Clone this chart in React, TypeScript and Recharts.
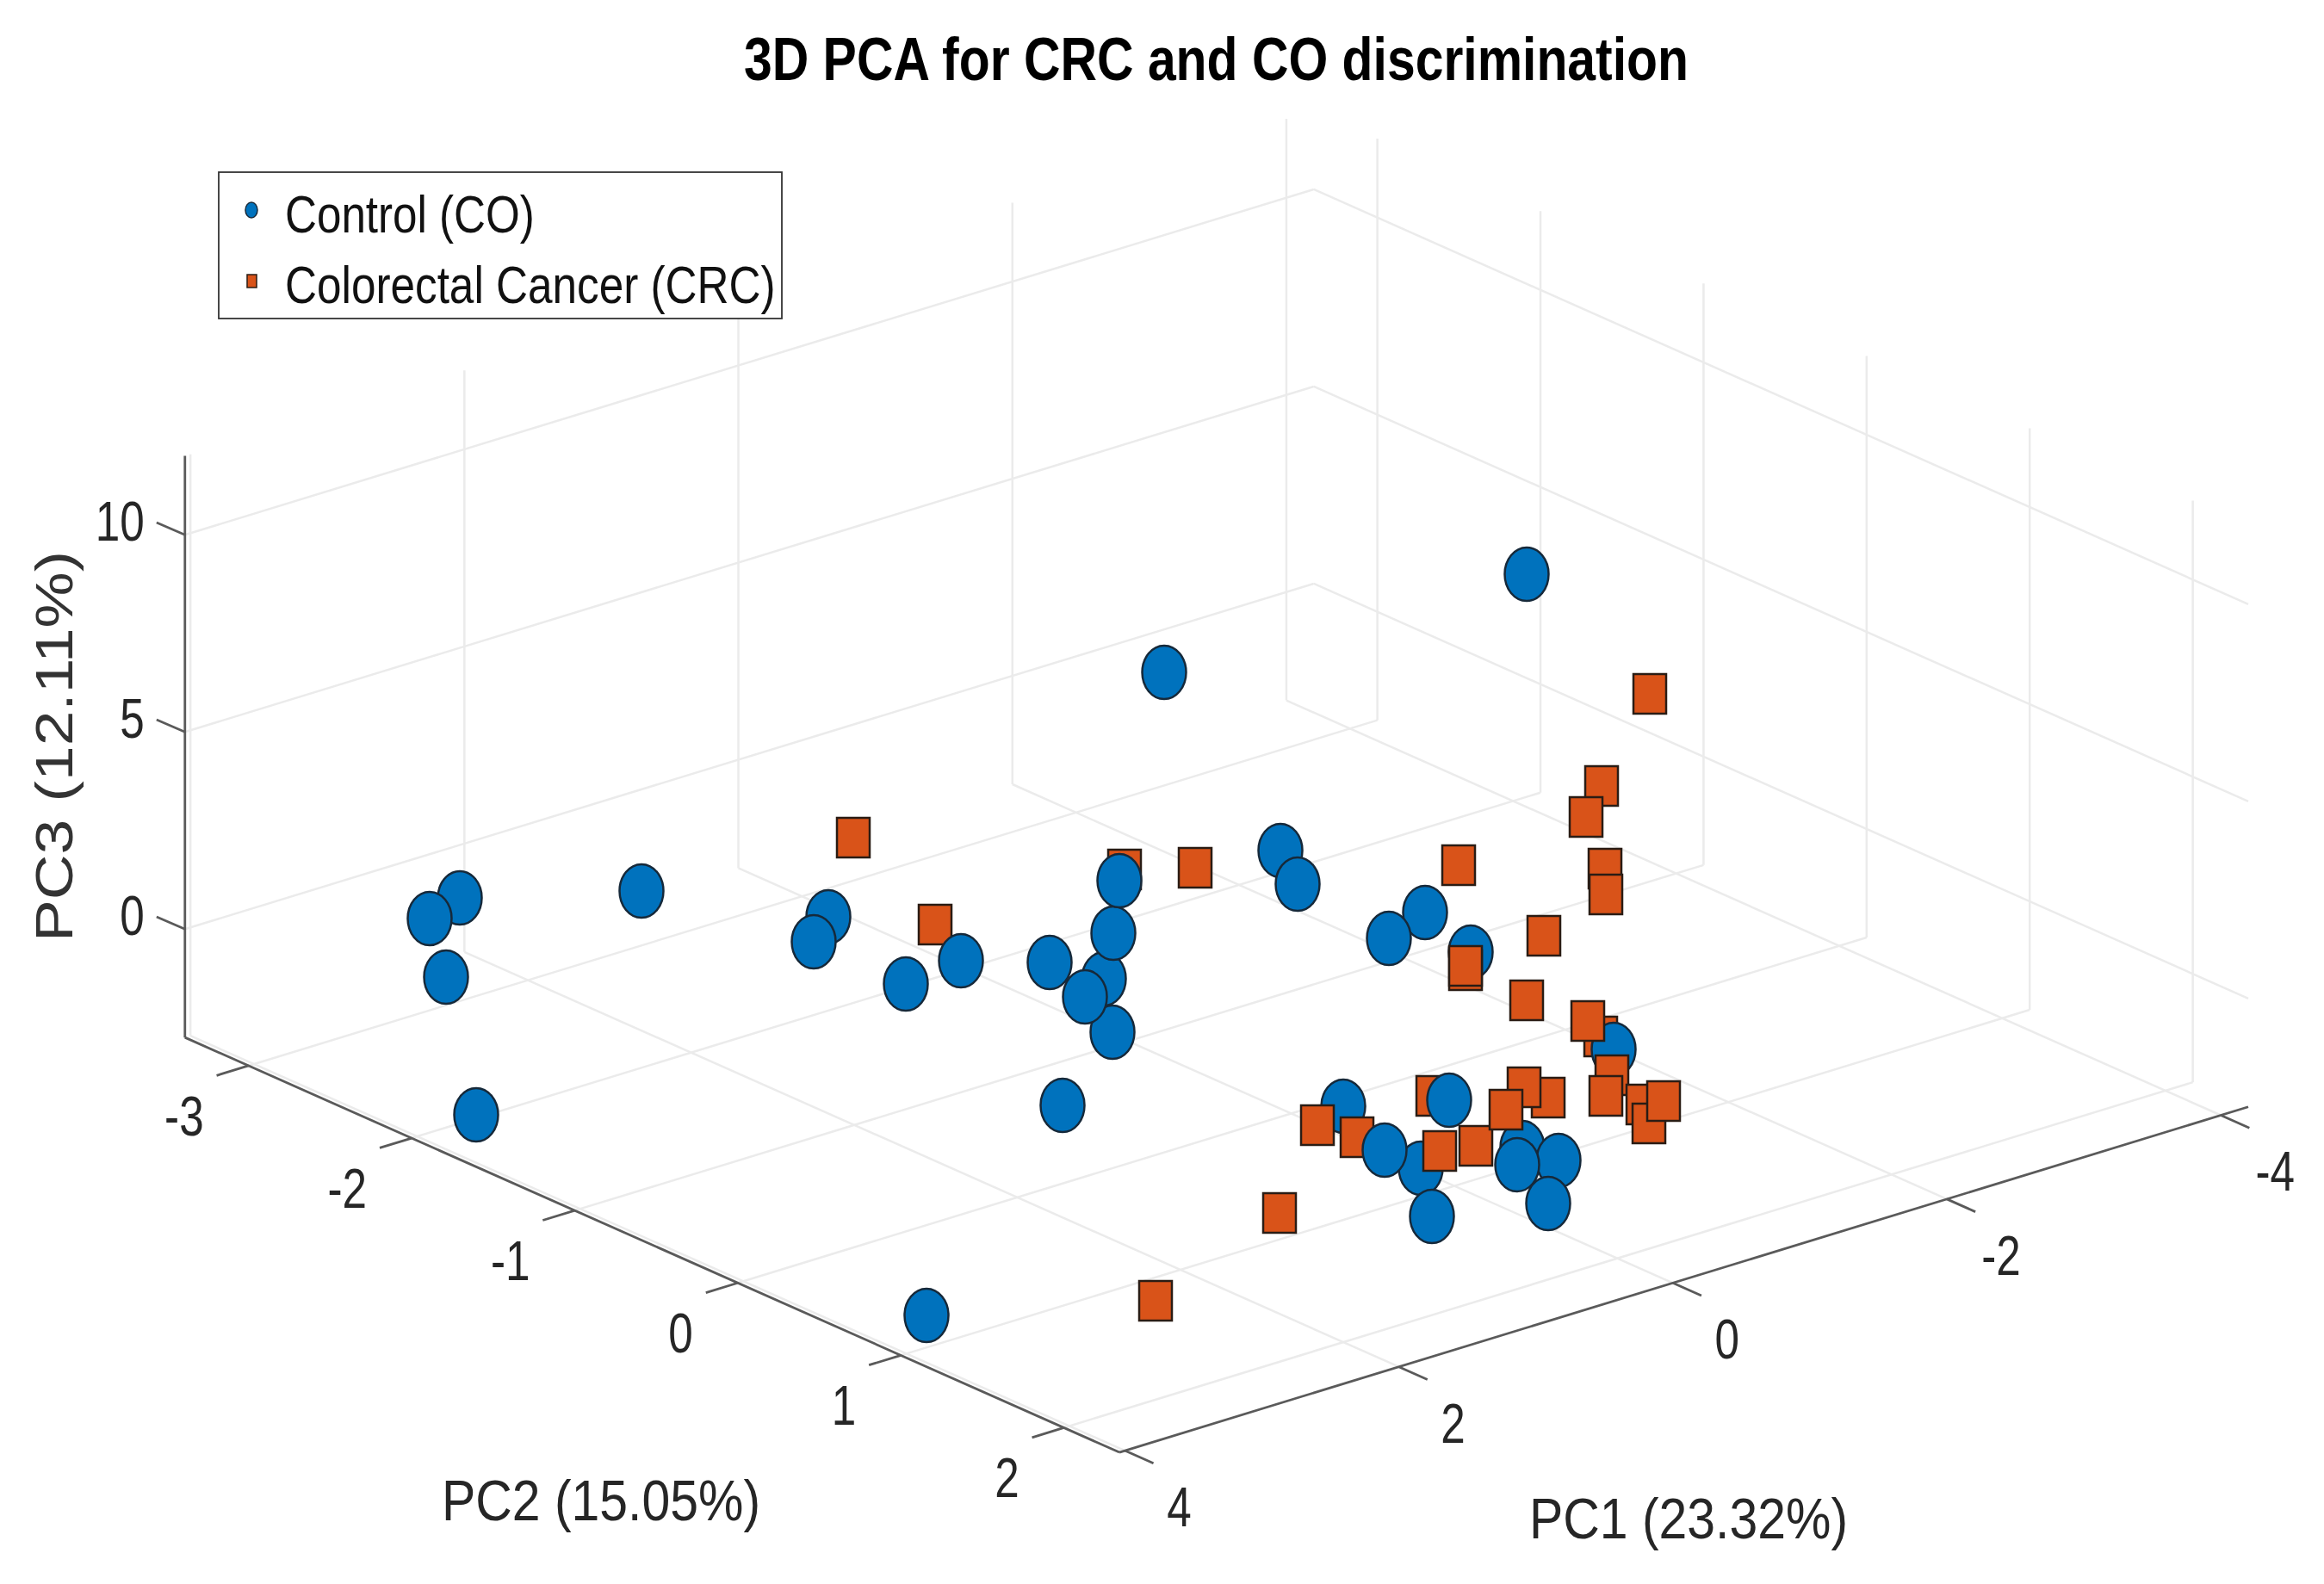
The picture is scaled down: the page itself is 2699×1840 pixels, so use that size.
import { ScatterChart, Scatter, XAxis, YAxis, Legend } from 'recharts';

const WIDTH = 2699;
const HEIGHT = 1840;

// marker centres (the 3D view is already flattened there)
// split into layers because the original overlaps blue and orange in depth order
const coBack = [[1560, 1285]];
const crcBack = [[1664, 1273], [1306, 1010], [1859, 1204], [1576, 1321], [1086, 1074]];
const coFront = [
  [534, 1043], [499, 1067], [518, 1135], [745, 1035], [553, 1295], [1076, 1528],
  [962, 1065], [945, 1094], [1052, 1143], [1116, 1116], [1219, 1118], [1292, 1199],
  [1282, 1137], [1260, 1158], [1293, 1084], [1300, 1023], [1234, 1284], [1352, 781],
  [1773, 667], [1487, 988], [1507, 1027], [1655, 1060], [1613, 1090], [1708, 1106],
  [1874, 1219], [1650, 1357], [1608, 1336], [1663, 1413], [1683, 1278], [1768, 1333],
  [1810, 1348], [1762, 1353], [1798, 1398],
];
const crcFront = [
  [1916, 806], [1860, 913], [1842, 949], [1694, 1005], [1864, 1009], [1865, 1039],
  [1793, 1087], [1702, 1127], [1702, 1122], [1773, 1162], [1844, 1186], [991, 973],
  [1388, 1008], [1530, 1307], [1672, 1337], [1714, 1331], [1798, 1275], [1770, 1263],
  [1749, 1289], [1872, 1249], [1865, 1273], [1908, 1283], [1915, 1305], [1932, 1279],
  [1486, 1409], [1342, 1511],
];

// axis ticks and limits
const pc1Ticks = [-4, -2, 0, 2, 4];
const pc2Ticks = [-3, -2, -1, 0, 1, 2];
const pc3Ticks = [0, 5, 10];
const PC1_MIN = -4.2;
const PC1_MAX = 4.04;
const PC2_MIN = -3.39;
const PC2_MAX = 2.34;
const PC3_MIN = -2.75;
const PC3_MAX = 12;

const BLUE = '#0072BD';
const ORANGE = '#D95319';
const GRID = '#ebebeb';
const AXIS = '#5a5a5a';
const TEXT = '#262626';
const FONT = '"Liberation Sans", Arial, sans-serif';

// fixed view of the MATLAB axes
const project = (pc1: number, pc2: number, pc3: number) => ({
  x: 1499.6 - 159.1 * pc1 + 189.4 * pc2,
  y: 1293.5 + 48.7 * pc1 + 84.1 * pc2 - 45.8 * (pc3 - PC3_MIN),
});

const toPoints = (list: number[][]) => list.map(([x, y]) => ({ x, y }));

const gridSegments = [
  ...pc1Ticks.map((t) => [project(t, PC2_MIN, PC3_MIN), project(t, PC2_MAX, PC3_MIN)]),
  ...pc2Ticks.map((t) => [project(PC1_MIN, t, PC3_MIN), project(PC1_MAX, t, PC3_MIN)]),
  ...pc1Ticks.map((t) => [project(t, PC2_MIN, PC3_MIN), project(t, PC2_MIN, PC3_MAX)]),
  ...pc2Ticks.map((t) => [project(PC1_MIN, t, PC3_MIN), project(PC1_MIN, t, PC3_MAX)]),
  ...pc3Ticks.map((t) => [project(PC1_MAX, PC2_MIN, t), project(PC1_MIN, PC2_MIN, t)]),
  ...pc3Ticks.map((t) => [project(PC1_MIN, PC2_MIN, t), project(PC1_MIN, PC2_MAX, t)]),
];

const axisSegments = [
  [project(PC1_MAX, PC2_MAX, PC3_MIN), project(PC1_MIN, PC2_MAX, PC3_MIN)],
  [project(PC1_MAX, PC2_MIN, PC3_MIN), project(PC1_MAX, PC2_MAX, PC3_MIN)],
  [project(PC1_MAX, PC2_MIN, PC3_MIN), project(PC1_MAX, PC2_MIN, PC3_MAX)],
  ...pc1Ticks.map((t) => [project(t, PC2_MAX, PC3_MIN), project(t, PC2_MAX + 0.175, PC3_MIN)]),
  ...pc2Ticks.map((t) => [project(PC1_MAX, t, PC3_MIN), project(PC1_MAX + 0.233, t, PC3_MIN)]),
  ...pc3Ticks.map((t) => [project(PC1_MAX, PC2_MIN, t), project(PC1_MAX + 0.207, PC2_MIN, t + 0.53)]),
];

const CoMarker = ({ cx, cy }: any) => (
  <ellipse cx={cx} cy={cy} rx={25.5} ry={31} fill={BLUE} stroke="#16293a" strokeWidth={2.5} />
);

const CrcMarker = ({ cx, cy }: any) => (
  <rect x={cx - 19} y={cy - 23} width={38} height={46} fill={ORANGE} stroke="#2a1c14" strokeWidth={2.5} />
);

const NoMarker = () => <g />;

const LegendBox = () => (
  <svg width={656} height={172} style={{ display: 'block', overflow: 'visible' }}>
    <rect x={1} y={1} width={654} height={170} fill="#fff" stroke="#333" strokeWidth={1.8} />
    <ellipse cx={39} cy={45} rx={7} ry={9} fill={BLUE} stroke="#16293a" strokeWidth={1.5} />
    <rect x={34} y={120} width={11} height={15} fill={ORANGE} stroke="#2a1c14" strokeWidth={1.5} />
    <text transform="translate(78,71) scale(0.825,1)" fontFamily={FONT} fontSize={62} fill="#111">
      Control (CO)
    </text>
    <text transform="translate(78,153) scale(0.827,1)" fontFamily={FONT} fontSize={62} fill="#111">
      Colorectal Cancer (CRC)
    </text>
  </svg>
);

const TickText = ({ x, y, anchor, children }: any) => (
  <text
    transform={`translate(${x},${y}) scale(0.8,1)`}
    textAnchor={anchor}
    fontFamily={FONT}
    fontSize={64}
    fill={TEXT}
  >
    {children}
  </text>
);

export default function App() {
  return (
    <div style={{ position: 'absolute', left: 0, top: 0, width: WIDTH, height: HEIGHT, background: '#fff' }}>
      <ScatterChart width={WIDTH} height={HEIGHT} margin={{ top: 0, right: 0, bottom: 0, left: 0 }}>
        <XAxis type="number" dataKey="x" domain={[0, WIDTH]} hide />
        <YAxis type="number" dataKey="y" domain={[0, HEIGHT]} reversed hide />
        <Legend
          layout="vertical"
          align="center"
          verticalAlign="middle"
          content={LegendBox}
          wrapperStyle={{ left: 253, top: 199, width: 656, height: 172 }}
        />

        {gridSegments.map((seg, i) => (
          <Scatter
            key={`grid-${i}`}
            data={seg}
            line={{ stroke: GRID, strokeWidth: 2.5 }}
            shape={NoMarker}
            legendType="none"
            isAnimationActive={false}
          />
        ))}
        {axisSegments.map((seg, i) => (
          <Scatter
            key={`axis-${i}`}
            data={seg}
            line={{ stroke: AXIS, strokeWidth: 2.8 }}
            shape={NoMarker}
            legendType="none"
            isAnimationActive={false}
          />
        ))}

        <Scatter name="Control (CO)" data={toPoints(coBack)} shape={CoMarker} isAnimationActive={false} />
        <Scatter name="Colorectal Cancer (CRC)" data={toPoints(crcBack)} shape={CrcMarker} isAnimationActive={false} />
        <Scatter name="Control (CO)" data={toPoints(coFront)} shape={CoMarker} isAnimationActive={false} />
        <Scatter name="Colorectal Cancer (CRC)" data={toPoints(crcFront)} shape={CrcMarker} isAnimationActive={false} />

        <text x={864} y={93} fontFamily={FONT} fontWeight="bold" fontSize={71} fill="#000" textLength={1097} lengthAdjust="spacingAndGlyphs">
          3D PCA for CRC and CO discrimination
        </text>

        {pc1Ticks.map((t) => {
          const p = project(t, PC2_MAX, PC3_MIN);
          return <TickText key={`pc1-${t}`} x={p.x + 63} y={p.y + 88} anchor="middle">{t}</TickText>;
        })}
        {pc2Ticks.map((t) => {
          const p = project(PC1_MAX, t, PC3_MIN);
          return <TickText key={`pc2-${t}`} x={p.x - 52} y={p.y + 81} anchor="end">{t}</TickText>;
        })}
        {pc3Ticks.map((t) => {
          const p = project(PC1_MAX, PC2_MIN, t);
          return <TickText key={`pc3-${t}`} x={p.x - 47} y={p.y + 7} anchor="end">{t}</TickText>;
        })}

        <text x={513} y={1766} fontFamily={FONT} fontSize={66} fill={TEXT} textLength={370} lengthAdjust="spacingAndGlyphs">
          PC2 (15.05%)
        </text>
        <text x={1776} y={1787} fontFamily={FONT} fontSize={66} fill={TEXT} textLength={370} lengthAdjust="spacingAndGlyphs">
          PC1 (23.32%)
        </text>
        <text
          transform="translate(84,1094) rotate(-90)"
          fontFamily={FONT}
          fontSize={62}
          fill="#333"
          textLength={454}
          lengthAdjust="spacingAndGlyphs"
        >
          PC3 (12.11%)
        </text>
      </ScatterChart>
    </div>
  );
}
